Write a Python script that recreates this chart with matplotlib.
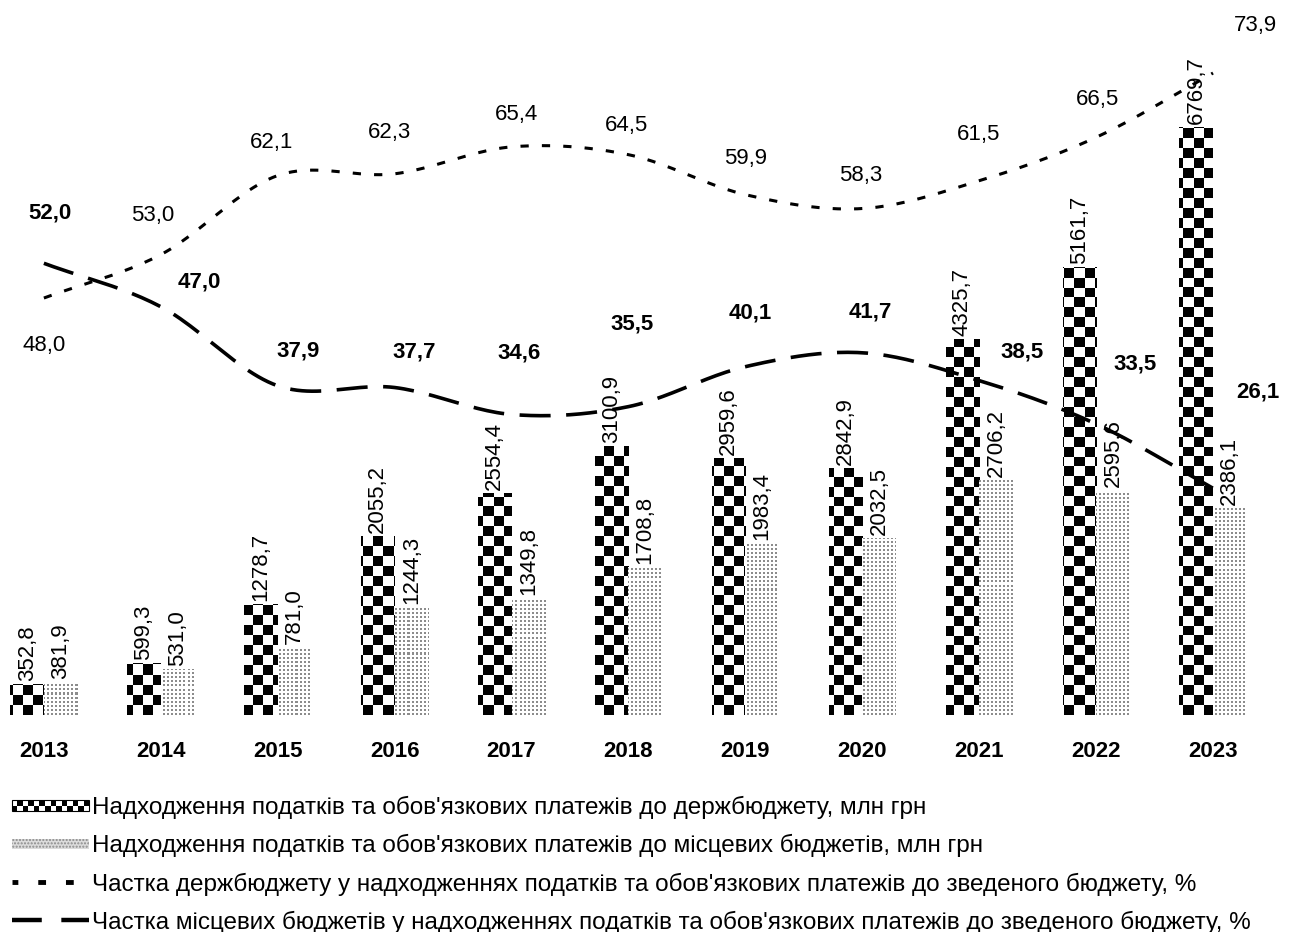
import numpy as np
import matplotlib
matplotlib.use('Agg')
import matplotlib.pyplot as plt
from matplotlib.patches import Rectangle
from matplotlib.lines import Line2D
from matplotlib.legend_handler import HandlerBase

plt.rcParams['font.family'] = ['Liberation Sans', 'DejaVu Sans']

years = ['2013', '2014', '2015', '2016', '2017', '2018', '2019', '2020', '2021', '2022', '2023']
state_budget = [352.8, 599.3, 1278.7, 2055.2, 2554.4, 3100.9, 2959.6, 2842.9, 4325.7, 5161.7, 6769.7]
local_budget = [381.9, 531.0, 781.0, 1244.3, 1349.8, 1708.8, 1983.4, 2032.5, 2706.2, 2595.6, 2386.1]
state_share = [48.0, 53.0, 62.1, 62.3, 65.4, 64.5, 59.9, 58.3, 61.5, 66.5, 73.9]
local_share = [52.0, 47.0, 37.9, 37.7, 34.6, 35.5, 40.1, 41.7, 38.5, 33.5, 26.1]

labels = ["Надходження податків та обов'язкових платежів до держбюджету, млн грн",
          "Надходження податків та обов'язкових платежів до місцевих бюджетів, млн грн",
          "Частка держбюджету у надходженнях податків та обов'язкових платежів до зведеного бюджету, %",
          "Частка місцевих бюджетів у надходженнях податків та обов'язкових платежів до зведеного бюджету, %"]

# label offsets in pixels (excel auto placement)
state_off = [(0, -47), (-8, 39), (-6, 33), (-5, 41), (5, 32), (-2, 29), (0, 36), (-2, 33), (-1, 46), (1, 38), (42, 48)]
local_off = [(6, 50), (39, 25), (20, 35), (20, 36), (8, 61), (4, 83), (5, 54), (8, 41), (43, 29), (39, 60), (45, 96)]


def smooth(xs, ys, n=24):
    # catmull-rom, like excel smoothed line
    xs = np.asarray(xs, float)
    ys = np.asarray(ys, float)
    px = np.concatenate([[2*xs[0]-xs[1]], xs, [2*xs[-1]-xs[-2]]])
    py = np.concatenate([[2*ys[0]-ys[1]], ys, [2*ys[-1]-ys[-2]]])
    outx, outy = [], []
    t = np.linspace(0, 1, n, endpoint=False)
    for i in range(1, len(px)-2):
        for p, out in ((px, outx), (py, outy)):
            p0, p1, p2, p3 = p[i-1], p[i], p[i+1], p[i+2]
            out.extend(0.5*((2*p1) + (-p0+p2)*t + (2*p0-5*p1+4*p2-p3)*t**2 + (-p0+3*p1-3*p2+p3)*t**3))
    outx.append(xs[-1])
    outy.append(ys[-1])
    return np.array(outx), np.array(outy)


class CheckerHandler(HandlerBase):
    def create_artists(self, legend, orig_handle, xdescent, ydescent, width, height, fontsize, trans):
        arts = []
        h = height*0.6
        y0 = -ydescent + (height-h)/2
        n = 14
        cw = width/n
        arts.append(Rectangle((-xdescent, y0), width, h, facecolor='white', edgecolor='black', lw=0.8, transform=trans))
        for r in range(2):
            for c in range(n):
                if (r + c) % 2 == 0:
                    arts.append(Rectangle((-xdescent + c*cw, y0 + r*h/2), cw, h/2, facecolor='black', lw=0, transform=trans))
        return arts


class DotHandler(HandlerBase):
    def create_artists(self, legend, orig_handle, xdescent, ydescent, width, height, fontsize, trans):
        h = height*0.6
        y0 = -ydescent + (height-h)/2
        r = Rectangle((-xdescent, y0), width, h, facecolor='#dcdcdc', edgecolor='#8a8a8a', hatch='.....', lw=0, transform=trans)
        return [r]


fig = plt.figure(figsize=(12.93, 9.32), dpi=100)
ax = fig.add_axes([0.0023, 0.2328, 0.9675, 0.7457])
ax2 = ax.twinx()

x = np.arange(len(years))
w = 0.287
xlim = (-0.35, 10.35)
ylim = (0, 8000)

b1 = ax.bar(x - w/2, state_budget, w, facecolor='none', edgecolor='none')
b2 = ax.bar(x + w/2, local_budget, w, facecolor='none', edgecolor='none')

# checkerboard fill, ~10 px cells
nx, ny = 125, 70
checker = (np.add.outer(np.arange(ny), np.arange(nx)) % 2).astype(float)
for bar in b1:
    im = ax.imshow(checker, cmap='gray', vmin=0, vmax=1, extent=(xlim[0], xlim[1], ylim[0], ylim[1]),
                   aspect='auto', interpolation='nearest', origin='lower')
    im.set_clip_path(bar)

# fine dot fill for local budgets
dots = np.ones((695, 1251))
for i in range(2):
    for j in range(2):
        dots[i::4, j::4] = 0.55
for bar in b2:
    im = ax.imshow(dots, cmap='gray', vmin=0, vmax=1, extent=(xlim[0], xlim[1], ylim[0], ylim[1]),
                   aspect='auto', interpolation='nearest', origin='lower')
    im.set_clip_path(bar)

ax.set_xlim(*xlim)
ax.set_ylim(*ylim)

for i in range(len(years)):
    ax.annotate('{:.1f}'.format(state_budget[i]).replace('.', ','), (x[i] - w/2, state_budget[i]),
                xytext=(0, 3), textcoords='offset pixels', rotation=90, ha='center', va='bottom', fontsize=16)
    ax.annotate('{:.1f}'.format(local_budget[i]).replace('.', ','), (x[i] + w/2, local_budget[i]),
                xytext=(0, 3), textcoords='offset pixels', rotation=90, ha='center', va='bottom', fontsize=16)

sx, sy = smooth(x, state_share)
lx, ly = smooth(x, local_share)
ax2.plot(sx, sy, color='black', lw=2.2, linestyle=(0, (2.7, 4.3)), solid_capstyle='butt')
ax2.plot(lx, ly, color='black', lw=2.6, linestyle=(0, (8.6, 4.3)), solid_capstyle='butt')
ax2.set_ylim(0, 80)
ax2.set_xlim(*xlim)

for i in range(len(years)):
    ax2.annotate('{:.1f}'.format(state_share[i]).replace('.', ','), (x[i], state_share[i]),
                 xytext=state_off[i], textcoords='offset pixels', ha='center', va='center', fontsize=16)
    ax2.annotate('{:.1f}'.format(local_share[i]).replace('.', ','), (x[i], local_share[i]),
                 xytext=local_off[i], textcoords='offset pixels', ha='center', va='center', fontsize=16,
                 fontweight='bold')

ax.set_xticks(x)
ax.set_xticklabels(years, fontsize=16, fontweight='bold')
ax.tick_params(axis='x', length=0, pad=19)
ax.set_yticks([])
ax2.set_yticks([])
for a in (ax, ax2):
    for s in a.spines.values():
        s.set_visible(False)

h1 = Rectangle((0, 0), 1, 1)
h2 = Rectangle((0, 0), 1, 1, facecolor='gray')
h3 = Line2D([], [], color='black', lw=3.5, linestyle=(0.4, (1.6, 4.1)), solid_capstyle='butt', dash_capstyle='butt')
h4 = Line2D([], [], color='black', lw=3.2, linestyle=(0, (6.7, 4.4)), solid_capstyle='butt', dash_capstyle='butt')
fig.legend([h1, h2, h3, h4], labels, loc='upper left', bbox_to_anchor=(0.009, 0.146),
           frameon=False, fontsize=17.5, handlelength=3.2, handletextpad=0.1,
           labelspacing=0.62, borderpad=0, borderaxespad=0,
           handler_map={h1: CheckerHandler(), h2: DotHandler()})

fig.savefig('out.png', dpi=100)
